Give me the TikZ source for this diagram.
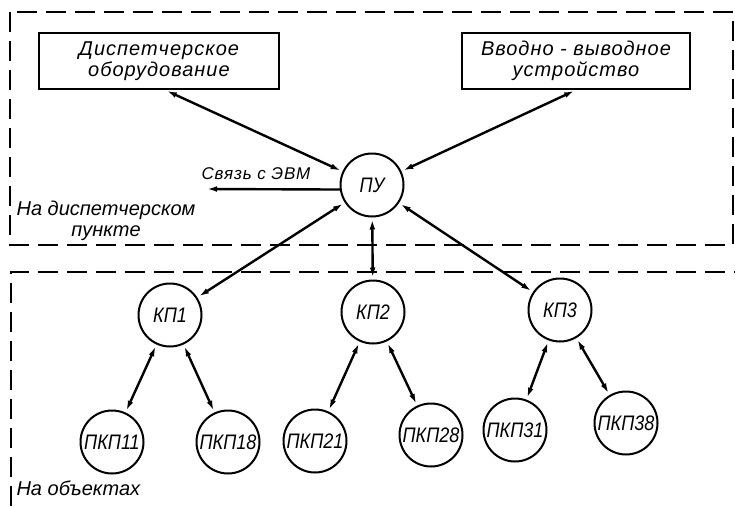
\documentclass[tikz,border=0pt]{standalone}
\usepackage{fontspec}
\setmainfont{Liberation Sans}
\newfontfamily\narrowfont[FakeStretch=0.86]{Liberation Sans}
\newfontfamily\widefont[LetterSpace=5]{Liberation Sans}
\usepackage{tikz}
\usetikzlibrary{arrows.meta}

\begin{document}
\begin{tikzpicture}[
        x=1pt, y=-1pt,
        font=\itshape\fontsize{20}{21}\selectfont,
        block/.style={draw, line width=2pt, minimum height=56pt, align=center,
            font=\widefont\itshape\fontsize{20}{21}\selectfont},
        unit/.style={draw, circle, line width=2pt, minimum size=63pt, inner sep=0pt,
            font=\narrowfont\itshape\fontsize{21}{22}\selectfont},
        link/.style={{Latex[length=12pt,width=5.5pt]}-{Latex[length=12pt,width=5.5pt]}, line width=2.4pt},
        zone/.style={dash pattern=on 20pt off 9pt, line width=1.8pt}
    ]
        \useasboundingbox (0,0) rectangle (735,506);
        % zones
        \draw[zone] (10,12) rectangle (733,245);
        \draw[zone] (11,506) -- (11,272) -- (735,272);
        \node[align=center] (z1) at (106,221) {На диспетчерском\\пункте};
        \node[anchor=west]  (z2) at (13,488) {На объектах};

        \node[block, minimum width=240pt] (b1) at (159,61) {Диспетчерское\\оборудование};
        \node[block, minimum width=228pt] (b2) at (576,61) {Вводно - выводное\\устройство};
        \node[unit]  (pu) at (372,185) {ПУ};
        \coordinate (evm) at (205,189);
        \node[font=\widefont\itshape\fontsize{17}{18}\selectfont] (t1) at (256,174) {Связь с ЭВМ};

        \node[unit] (kp1) at (170,315) {КП1};
        \node[unit] (kp2) at (373,312) {КП2};
        \node[unit] (kp3) at (560,310) {КП3};

        \node[unit] (pkp11) at (112,442) {ПКП11};
        \node[unit] (pkp18) at (228,442) {ПКП18};
        \node[unit] (pkp21) at (315,441) {ПКП21};
        \node[unit] (pkp28) at (431,435) {ПКП28};
        \node[unit] (pkp31) at (515,430) {ПКП31};
        \node[unit] (pkp38) at (626,423) {ПКП38};

        \draw[link] ([xshift=6pt]b1.south) -- (pu);
        \draw[link] (b2.south) -- (pu);
        \draw[-{Latex[length=12pt,width=5.5pt]}, line width=2.4pt] (pu.188) -- (evm);
        \draw[link] (pu) -- (kp1);
        \draw[link] (pu) -- (kp2);
        \draw[link] (pu) -- (kp3);
        \draw[link] (kp1) -- (pkp11);
        \draw[link] (kp1) -- (pkp18);
        \draw[link] (kp2) -- (pkp21);
        \draw[link] (kp2) -- (pkp28);
        \draw[link] (kp3) -- (pkp31);
        \draw[link] (kp3) -- (pkp38);
    \end{tikzpicture}
\end{document}
